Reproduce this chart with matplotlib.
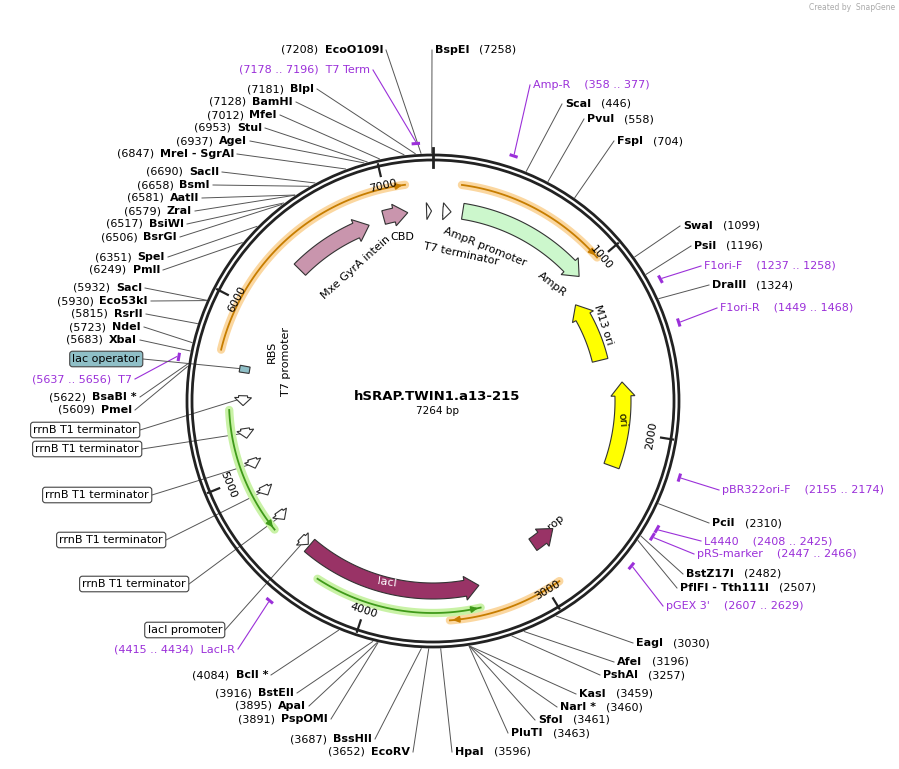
import numpy as np
import matplotlib.pyplot as plt
from matplotlib.patches import Polygon, Circle

TOTAL = 7264
TITLE = "hSRAP.TWIN1.a13-215"
CX, CY, R = 433, 401, 246

# enzyme sites: name, position
ENZ_NAMES = ["EcoO109I", "BspEI", "BlpI", "BamHI", "MfeI", "StuI", "AgeI", "MreI - SgrAI",
             "SacII", "BsmI", "AatII", "ZraI", "BsiWI", "BsrGI", "SpeI", "PmlI",
             "SacI", "Eco53kI", "RsrII", "NdeI", "XbaI", "BsaBI *", "PmeI",
             "BclI *", "BstEII", "ApaI", "PspOMI", "BssHII", "EcoRV",
             "HpaI", "PluTI", "SfoI", "NarI *", "KasI", "PshAI", "AfeI", "EagI",
             "ScaI", "PvuI", "FspI", "SwaI", "PsiI", "DraIII", "PciI", "BstZ17I", "PflFI - Tth111I"]
ENZ_POS = [7208, 7258, 7181, 7128, 7012, 6953, 6937, 6847,
           6690, 6658, 6581, 6579, 6517, 6506, 6351, 6249,
           5932, 5930, 5815, 5723, 5683, 5622, 5609,
           4084, 3916, 3895, 3891, 3687, 3652,
           3596, 3463, 3461, 3460, 3459, 3257, 3196, 3030,
           446, 558, 704, 1099, 1196, 1324, 2310, 2482, 2507]
# label anchors (layout only)
ENZ_XY = [(383, 50), (435, 50), (314, 89), (293, 102), (277, 115), (262, 128), (247, 141), (234, 154),
          (219, 172), (210, 185), (199, 198), (192, 211), (184, 224), (177, 237), (165, 257), (160, 270),
          (142, 288), (148, 301), (143, 314), (141, 327), (137, 340), (137, 397), (132, 410),
          (268, 675), (294, 693), (306, 706), (328, 719), (372, 739), (410, 752),
          (455, 752), (511, 733), (538, 720), (560, 707), (579, 694), (603, 675), (617, 662), (636, 643),
          (565, 104), (587, 119), (617, 141), (683, 226), (694, 246), (712, 285), (712, 523), (686, 574), (680, 588)]

PR_NAMES = ["T7 Term", "T7", "LacI-R", "Amp-R", "F1ori-F", "F1ori-R", "pBR322ori-F",
            "L4440", "pRS-marker", "pGEX 3'"]
PR_RANGE = [(7178, 7196), (5637, 5656), (4415, 4434), (358, 377), (1237, 1258), (1449, 1468),
            (2155, 2174), (2408, 2425), (2447, 2466), (2607, 2629)]
PR_XY = [(370, 70), (132, 379), (235, 649), (533, 85), (704, 266), (720, 308), (722, 490),
         (704, 541), (697, 554), (666, 606)]

# boxed feature labels
BOX_NAMES = ["lac operator", "rrnB T1 terminator", "rrnB T1 terminator", "rrnB T1 terminator",
             "rrnB T1 terminator", "rrnB T1 terminator", "lacI promoter"]
BOX_POS = [5640, 5454, 5253, 5062, 4883, 4700, 4491]
BOX_XY = [(143, 359), (140, 430), (142, 449), (152, 495), (166, 540), (189, 584), (225, 630)]

# directional features: name, start, end, strand, color
FEAT = [
    ("AmpR", 180, 1000, 1, "#ccf7cc"),
    ("M13 ori", 1130, 1540, -1, "#ffff00"),
    ("ori", 1700, 2220, -1, "#ffff00"),
    ("rop", 2760, 2930, -1, "#993366"),
    ("lacI", 3350, 4450, -1, "#993366"),
    ("Mxe GyrA intein", 6348, 6861, 1, "#c995ad"),
    ("CBD", 6960, 7110, 1, "#c995ad"),
]
FEAT_R = [192, 172, 190, 175, 190, 187, 190]
SMALL_ARROWS = [(7225, 7255, 1), (60, 110, 1), (5420, 5480, -1), (5220, 5280, -1), (5030, 5090, -1),
                (4850, 4910, -1), (4670, 4730, -1), (4460, 4520, -1)]
PRIMER_ARCS = [(5723, 7115, 218, 1, "orange"), (154, 985, 218, 1, "orange"), (2925, 3543, 220, 1, "orange"),
               (4660, 5397, 204, -1, "green"), (3370, 4298, 212, -1, "green")]


def theta(bp):
    return np.deg2rad(bp / TOTAL * 360)


def pt(bp, r):
    t = theta(bp)
    return CX + r * np.sin(t), CY - r * np.cos(t)


def arc_arrow(ax, s, e, r, w, color, strand, head=14, ec="#333333"):
    hl = head / r / (2 * np.pi) * TOTAL
    if strand == 1:
        base = max(s, e - hl)
        body = np.linspace(s, base, 40)
        tip = e
    else:
        base = min(e, s + hl)
        body = np.linspace(base, e, 40)
        tip = s
    outer = [pt(b, r + w / 2) for b in body]
    inner = [pt(b, r - w / 2) for b in body[::-1]]
    if strand == 1:
        pts = outer + [pt(base, r + w / 2 + 4), pt(tip, r), pt(base, r - w / 2 - 4)] + inner
    else:
        pts = [pt(base, r - w / 2 - 4), pt(tip, r), pt(base, r + w / 2 + 4)] + outer + inner
    ax.add_patch(Polygon(pts, closed=True, fc=color, ec=ec, lw=0.8, zorder=4))


def line_arc(ax, s, e, r, strand, kind):
    bps = np.linspace(s, e, 100)
    xs, ys = zip(*[pt(b, r) for b in bps])
    halo, core = ("#fbd7a0", "#c77d00") if kind == "orange" else ("#c9f2a6", "#3f9a1a")
    ax.plot(xs, ys, color=halo, lw=6, solid_capstyle="round", zorder=2)
    ax.plot(xs, ys, color=core, lw=1.3, zorder=3)
    tip = e if strand == 1 else s
    back = tip - strand * 70
    ax.annotate("", xy=pt(tip, r), xytext=pt(back, r),
                arrowprops=dict(arrowstyle="-|>", color=core, lw=1.3, mutation_scale=9), zorder=3)


fig = plt.figure(figsize=(8.99, 7.69), dpi=100)
ax = fig.add_axes([0, 0, 1, 1])
ax.set_xlim(0, 899)
ax.set_ylim(769, 0)
ax.axis("off")
renderer = fig.canvas.get_renderer()
FS = 8

# ring
for rr in (R, R - 5):
    ax.add_patch(Circle((CX, CY), rr, fill=False, ec="#222222", lw=2.0, zorder=5))
ax.plot([CX, CX], [CY - R - 7, CY - R + 12], color="#222222", lw=2, zorder=6)
for k in range(1, 8):
    bp = k * 1000
    ax.plot(*zip(pt(bp, R - 3), pt(bp, R - 15)), color="#222222", lw=1.6, zorder=6)
    deg = bp / TOTAL * 360
    rot = -deg if (deg < 90 or deg > 270) else 180 - deg
    x, y = pt(bp, R - 25)
    ax.text(x, y, str(bp), fontsize=FS, rotation=rot, ha="center", va="center", zorder=6)

# feature arrows
for (name, s, e, strand, col), r in zip(FEAT, FEAT_R):
    arc_arrow(ax, s, e, r, 16 if name not in ("rop", "CBD") else 14, col, strand)
for s, e, strand in SMALL_ARROWS:
    arc_arrow(ax, s, e, 190, 9, "white", strand, head=8)
ax.add_patch(Polygon([pt(5620, 186), pt(5620, 196), pt(5660, 196), pt(5660, 186)],
                     fc="#8fbfc7", ec="#333333", lw=0.8, zorder=4))
for s, e, r, strand, kind in PRIMER_ARCS:
    line_arc(ax, s, e, r, strand, kind)

# feature labels
ax.text(356, 268, "Mxe GyrA intein", rotation=42, fontsize=FS, ha="center", va="center")
ax.text(402, 237, "CBD", fontsize=FS, ha="center", va="center")
ax.text(485, 247, "AmpR promoter", rotation=-22, fontsize=FS, ha="center", va="center")
ax.text(461, 254, "T7 terminator", rotation=-12, fontsize=FS, ha="center", va="center")
ax.text(552, 284, "AmpR", rotation=-38, fontsize=FS, ha="center", va="center")
ax.text(603, 325, "M13 ori", rotation=-72, fontsize=FS, ha="center", va="center", zorder=7)
ax.text(622, 420, "ori", rotation=-85, fontsize=FS, ha="center", va="center", zorder=7)
ax.text(556, 522, "rop", rotation=40, fontsize=FS, ha="center", va="center")
ax.text(387, 582, "lacI", rotation=-8, fontsize=FS, ha="center", va="center", color="white", zorder=7)
ax.text(272, 352, "RBS", rotation=90, fontsize=FS, ha="center", va="center")
ax.text(286, 362, "T7 promoter", rotation=90, fontsize=FS, ha="center", va="center")
ax.text(437, 397, TITLE, fontsize=9.5, fontweight="bold", ha="center", va="center")
ax.text(437, 411, f"{TOTAL} bp", fontsize=FS - 0.5, ha="center", va="center")


def two_part(x, y, bold, plain, side):
    if side == "L":
        t = ax.text(x, y, bold, fontsize=FS, fontweight="bold", ha="right", va="center")
        w = t.get_window_extent(renderer).width
        ax.text(x - w - 6, y, plain, fontsize=FS, ha="right", va="center")
        return x + 3
    t = ax.text(x, y, bold, fontsize=FS, fontweight="bold", ha="left", va="center")
    w = t.get_window_extent(renderer).width
    ax.text(x + w + 10, y, plain, fontsize=FS, ha="left", va="center")
    return x - 3


for name, pos, (x, y) in zip(ENZ_NAMES, ENZ_POS, ENZ_XY):
    side = "R" if x >= 435 else "L"
    lx = two_part(x, y, name, f"({pos})", side)
    ax.plot(*zip(pt(pos, R + 2), (lx, y)), color="#555555", lw=0.7, zorder=1)

for name, (a, b), (x, y) in zip(PR_NAMES, PR_RANGE, PR_XY):
    if x < CX:
        ax.text(x, y, f"({a} .. {b})  {name}", fontsize=FS, color="#9b30d9", ha="right", va="center")
        lx = x + 3
    else:
        ax.text(x, y, f"{name}    ({a} .. {b})", fontsize=FS, color="#9b30d9", ha="left", va="center")
        lx = x - 3
    mid = (a + b) / 2
    ax.plot(*zip(pt(mid, R + 14), (lx, y)), color="#9b30d9", lw=0.8, zorder=1)
    bps = np.linspace(mid - 12, mid + 12, 5)
    ax.plot(*zip(*[pt(q, R + 12) for q in bps]), color="#9b30d9", lw=2.2, zorder=5)

for name, pos, (x, y) in zip(BOX_NAMES, BOX_POS, BOX_XY):
    fc = "#8fbfc7" if name == "lac operator" else "white"
    ax.text(x - 3, y, name, fontsize=FS, ha="right", va="center", zorder=7,
            bbox=dict(boxstyle="round,pad=0.25", fc=fc, ec="#444444", lw=0.8))
    ax.plot(*zip(pt(pos, 196), (x, y)), color="#555555", lw=0.7, zorder=1)

ax.text(895, 8, "Created by  SnapGene", fontsize=5.5, color="#aaaaaa", ha="right", va="center")

fig.savefig("out.png", dpi=100)
